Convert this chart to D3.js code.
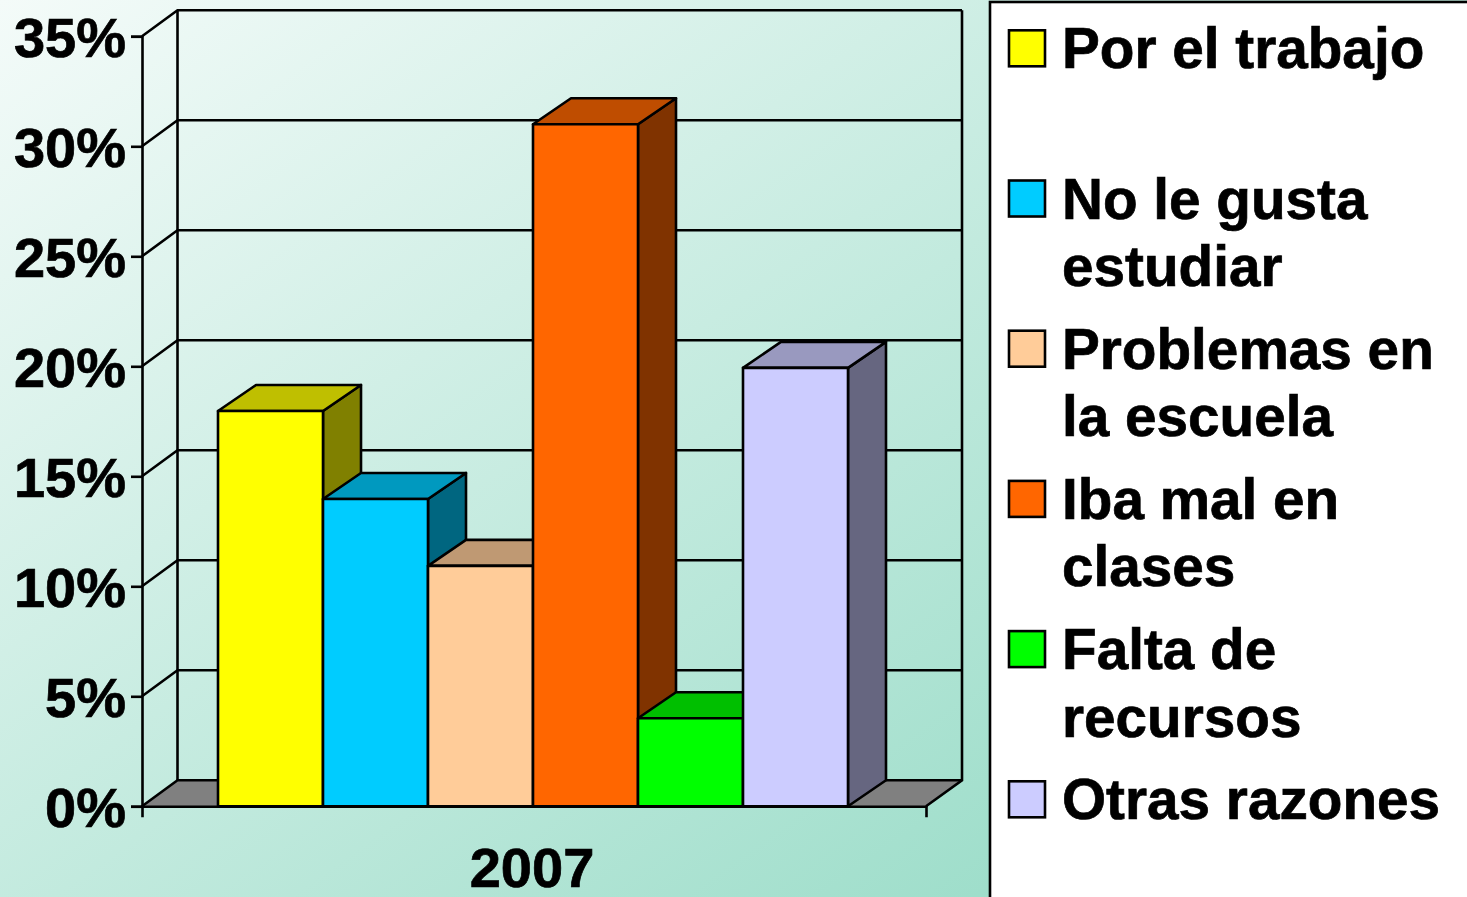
<!DOCTYPE html>
<html><head><meta charset="utf-8">
<script src="https://cdn.jsdelivr.net/npm/d3@7/dist/d3.min.js"></script>
<style>html,body{margin:0;padding:0;background:#fff;overflow:hidden}svg{display:block}
text{font-family:"Liberation Sans",Arial,sans-serif;font-weight:700;fill:#000;stroke:#000;stroke-width:.7px}</style>
</head><body><svg id="c" width="1467" height="897"></svg>
<script>
const categories = ["2007"];
const series = ["Por el trabajo","No le gusta estudiar","Problemas en la escuela","Iba mal en clases","Falta de recursos","Otras razones"];
const legendLines = [["Por el trabajo"],["No le gusta","estudiar"],["Problemas en","la escuela"],["Iba mal en","clases"],["Falta de","recursos"],["Otras razones"]];
const values = [17.97, 13.97, 10.93, 31, 4, 19.93];
const colors = ["#FFFF00","#00CCFF","#FFCC99","#FF6600","#00FF00","#CCCCFF"];
const yTicks = [0,5,10,15,20,25,30,35];

const W=1467,H=897, dx=35.5, dy=-26, bdx=38, bdy=-26, ink="#000", sw=2.6;
const svg=d3.select("#c");
const shade=(c,k)=>{const r=d3.rgb(c);return d3.rgb(r.r*k,r.g*k,r.b*k).formatHex();};

const defs=svg.append("defs");
const g=defs.append("linearGradient").attr("id","bg").attr("gradientUnits","userSpaceOnUse")
  .attr("x1",0).attr("y1",0).attr("x2",830).attr("y2",1168);
g.append("stop").attr("offset",0).attr("stop-color","#f4fbf9");
g.append("stop").attr("offset",1).attr("stop-color","#96dbc6");
svg.append("rect").attr("width",W).attr("height",H).attr("fill","url(#bg)");

const y=d3.scaleLinear().domain([0,35]).range([806.3,36.3]);
const x0=d3.scaleBand().domain(categories).range([142,926]);
const x1=d3.scaleBand().domain(series).range([218,848]);
const line=d3.line();

// walls and gridlines
const L=x0.range()[0],R=x0.range()[1];
const wall=svg.append("g").attr("fill","none").attr("stroke",ink).attr("stroke-width",sw);
svg.insert("path","g").attr("d",line([[L,y(0)],[L+dx,y(0)+dy],[R+dx+.5,y(0)+dy],[R,y(0)]])+"Z").attr("fill","#808080");
wall.selectAll("path.grid").data(yTicks).join("path").attr("class","grid")
  .attr("d",t=>line([[L,y(t)],[L+dx,y(t)+dy],[R+dx+.5,y(t)+dy]]));
wall.append("path").attr("d",line([[L+dx,y(35)+dy],[L+dx,y(0)+dy]]));
wall.append("path").attr("d",line([[R+dx+.5,y(35)+dy],[R+dx+.5,y(0)+dy],[R,y(0)]]));

// axes
const axY=svg.append("g").attr("transform",`translate(${L},0)`)
  .call(d3.axisLeft(y).tickValues(yTicks).tickFormat(d=>d+"%").tickSize(11).tickPadding(5));
const axX=svg.append("g").attr("transform",`translate(0,${y(0)})`)
  .call(d3.axisBottom(x0).tickSizeInner(0).tickSizeOuter(11).tickPadding(38));
[axY,axX].forEach(a=>{a.selectAll("path,line").attr("stroke",ink).attr("stroke-width",sw);
  a.selectAll("text").attr("font-size",56).attr("font-family",null);a.attr("font-family",null).attr("font-size",null);});
axY.selectAll("text").attr("dy","0.36em");
axX.selectAll("text").attr("dx",-2).attr("dy","0.77em");

// bars
const bars=svg.append("g").selectAll("g").data(series).join("g")
  .attr("stroke",ink).attr("stroke-width",sw).attr("stroke-linejoin","round");
bars.each(function(s,i){
  const b=d3.select(this),a=x1(s),e=a+x1.bandwidth(),t=y(values[i]),f=y(0);
  b.append("path").attr("fill",shade(colors[i],.5))
    .attr("d",line([[e,t],[e+bdx,t+bdy],[e+bdx,f+bdy],[e,f]])+"Z");
  b.append("path").attr("fill",shade(colors[i],.75))
    .attr("d",line([[a,t],[a+bdx,t+bdy],[e+bdx,t+bdy],[e,t]])+"Z");
  b.append("path").attr("fill",colors[i])
    .attr("d",line([[a,t],[e,t],[e,f],[a,f]])+"Z");
});

// legend
svg.append("rect").attr("x",990).attr("y",2).attr("width",600).attr("height",1000)
  .attr("fill","#fff").attr("stroke",ink).attr("stroke-width",2.6);
const ly=d3.scalePoint().domain(series).range([48.3,799.3]);
const lg=svg.append("g").selectAll("g").data(series).join("g").attr("transform",s=>`translate(0,${ly(s)})`);
lg.append("rect").attr("x",1009).attr("y",-18).attr("width",36).attr("height",36)
  .attr("fill",(s,i)=>colors[i]).attr("stroke",ink).attr("stroke-width",2.6);
lg.each(function(s,i){
  d3.select(this).selectAll("text").data(legendLines[i]).join("text")
    .attr("x",1062).attr("y",(d,j)=>20+j*67.5).attr("font-size",56.7).text(d=>d);
});
</script></body></html>
